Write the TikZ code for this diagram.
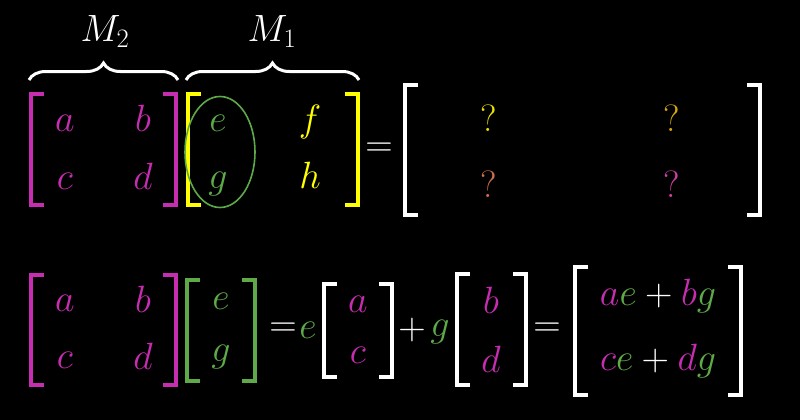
\documentclass[tikz,border=0pt]{standalone}
\usepackage{fix-cm}
\usepackage{fontspec}
\usetikzlibrary{decorations.pathreplacing,shapes.geometric}
\definecolor{mag}{HTML}{C72DB0}
\definecolor{grn}{HTML}{5EAA48}
\definecolor{yel}{HTML}{FFFF00}
\definecolor{qA}{HTML}{E8E400}
\definecolor{qB}{HTML}{D8A810}
\definecolor{qC}{HTML}{D07050}
\definecolor{qD}{HTML}{D040A8}
\tikzset{
  ent/.style={font=\fontsize{38}{40}\selectfont, inner sep=0pt, anchor=base, text=white},
  op/.style={font=\fontsize{38}{40}\selectfont, inner sep=0pt, anchor=center, text=white},
  brk/.style={line width=4pt, miter limit=10},
  brc/.style={draw=white, line width=3pt, decorate, decoration={brace, amplitude=17pt}},
}
% left bracket: colour, outer x, top, bottom
\newcommand\mylbr[4]{\draw[brk,#1] ({#2+15},{#3+2}) -- ({#2+2},{#3+2}) -- ({#2+2},{#4-2}) -- ({#2+15},{#4-2});}
\newcommand\myrbr[4]{\draw[brk,#1] ({#2-15},{#3+2}) -- ({#2-2},{#3+2}) -- ({#2-2},{#4-2}) -- ({#2-15},{#4-2});}
\begin{document}
\begin{tikzpicture}[x=1pt,y=-1pt]
\fill[black] (0,0) rectangle (800,420);
\useasboundingbox (0,0) rectangle (800,420);

% ---- top row ----
\draw[brc] (29,80) -- (178,80);
\draw[brc] (186,80) -- (359,80);
\node[ent] (m2) at (105,42) {$M_2$};
\node[ent] (m1) at (272,42) {$M_1$};

\mylbr{mag}{29}{92}{207}
\myrbr{mag}{178}{92}{207}
\mylbr{yel}{186}{92}{207}
\myrbr{yel}{360}{92}{207}
\mylbr{white}{403}{83}{217}
\myrbr{white}{762}{83}{217}

\node[ent,text=mag] (a1) at (65,131) {$a$};
\node[ent,text=mag] (b1) at (143,131) {$b$};
\node[ent,text=mag] (c1) at (65,189) {$c$};
\node[ent,text=mag] (d1) at (143,189) {$d$};
\node[ent,text=grn] (e1) at (218,131) {$e$};
\node[ent,text=yel] (f1) at (310,131) {$f$};
\node[ent,text=grn] (g1) at (218,188) {$g$};
\node[ent,text=yel] (h1) at (310,188) {$h$};
\node[draw=grn, ellipse, line width=1.6pt, minimum width=70pt, minimum height=111pt, inner sep=0pt] (ell) at (220,152) {};
\node[op] (eq1) at (379,150) {$=$};
\node[ent,text=qA] (q1) at (489,131) {?};
\node[ent,text=qB] (q2) at (672,131) {?};
\node[ent,text=qC] (q3) at (489,197) {?};
\node[ent,text=qD] (q4) at (672,197) {?};

% ---- bottom row ----
\mylbr{mag}{29}{273}{387}
\myrbr{mag}{178}{273}{387}
\mylbr{grn}{185}{278}{383}
\myrbr{grn}{257}{278}{383}
\mylbr{white}{322}{282}{379}
\myrbr{white}{394}{282}{379}
\mylbr{white}{455}{272}{387}
\myrbr{white}{528}{272}{387}
\mylbr{white}{573}{265}{397}
\myrbr{white}{743}{265}{397}

\node[ent,text=mag] (a2) at (65,311) {$a$};
\node[ent,text=mag] (b2) at (143,312) {$b$};
\node[ent,text=mag] (c2) at (65,368) {$c$};
\node[ent,text=mag] (d2) at (143,369) {$d$};
\node[ent,text=grn] (e2) at (221,309) {$e$};
\node[ent,text=grn] (g2) at (221,361) {$g$};
\node[op] (eq2) at (283,330) {$=$};
\node[op,text=grn] (e3) at (308,330) {$e$};
\node[ent,text=mag] (a3) at (358,312) {$a$};
\node[ent,text=mag] (c3) at (358,363) {$c$};
\node[op] (pl) at (412,330) {$+$};
\node[ent,text=grn] (g3) at (440,336) {$g$};
\node[ent,text=mag] (b3) at (491,313) {$b$};
\node[ent,text=mag] (d3) at (491,372) {$d$};
\node[op] (eq3) at (547,330) {$=$};
\node[ent] (r1) at (658,305) {$\textcolor{mag}{a}\textcolor{grn}{e}+\textcolor{mag}{b}\textcolor{grn}{g}$};
\node[ent] (r2) at (658,370) {$\textcolor{mag}{c}\textcolor{grn}{e}+\textcolor{mag}{d}\textcolor{grn}{g}$};
\end{tikzpicture}
\end{document}
